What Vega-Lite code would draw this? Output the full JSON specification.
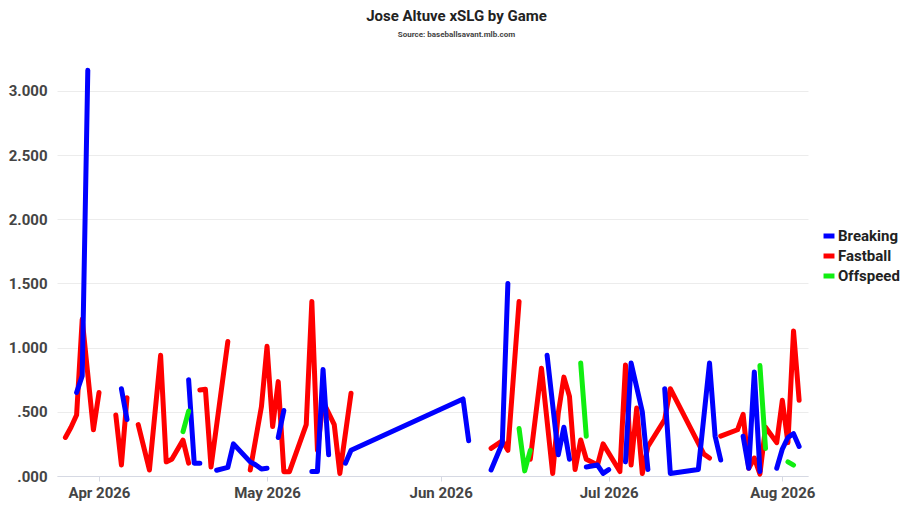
{
  "$schema": "https://vega.github.io/schema/vega-lite/v6.json",
  "description": "Jose Altuve xSLG by game, split by pitch type",
  "autosize": {"type": "none"},
  "padding": {"left": 57, "top": 69, "right": 104, "bottom": 37},
  "width": 751,
  "height": 407,
  "background": "white",
  "view": {"stroke": null},
  "config": {"font": "Roboto"},
  "title": {
    "text": "Jose Altuve xSLG by Game",
    "subtitle": "Source: baseballsavant.mlb.com",
    "fontSize": 15,
    "fontWeight": "bold",
    "color": "#222222",
    "subtitleFontSize": 8,
    "subtitleFontWeight": "bold",
    "subtitleColor": "#444444",
    "subtitlePadding": 7,
    "anchor": "middle",
    "dx": 24,
    "offset": 29
  },
  "data": {
    "values": [
      {"date": "2026-03-26", "type": "Fastball", "xslg": 0.30},
      {"date": "2026-03-27", "type": "Fastball", "xslg": 0.38},
      {"date": "2026-03-28", "type": "Fastball", "xslg": 0.475},
      {"date": "2026-03-29", "type": "Fastball", "xslg": 1.22},
      {"date": "2026-03-31", "type": "Fastball", "xslg": 0.36},
      {"date": "2026-04-01", "type": "Fastball", "xslg": 0.65},
      {"date": "2026-04-02", "type": "Fastball", "xslg": null},
      {"date": "2026-04-04", "type": "Fastball", "xslg": 0.475},
      {"date": "2026-04-05", "type": "Fastball", "xslg": 0.086},
      {"date": "2026-04-06", "type": "Fastball", "xslg": 0.61},
      {"date": "2026-04-07", "type": "Fastball", "xslg": null},
      {"date": "2026-04-08", "type": "Fastball", "xslg": 0.40},
      {"date": "2026-04-10", "type": "Fastball", "xslg": 0.047},
      {"date": "2026-04-12", "type": "Fastball", "xslg": 0.94},
      {"date": "2026-04-13", "type": "Fastball", "xslg": 0.11},
      {"date": "2026-04-14", "type": "Fastball", "xslg": 0.13},
      {"date": "2026-04-16", "type": "Fastball", "xslg": 0.28},
      {"date": "2026-04-17", "type": "Fastball", "xslg": 0.10},
      {"date": "2026-04-18", "type": "Fastball", "xslg": null},
      {"date": "2026-04-19", "type": "Fastball", "xslg": 0.67},
      {"date": "2026-04-20", "type": "Fastball", "xslg": 0.675},
      {"date": "2026-04-21", "type": "Fastball", "xslg": 0.07},
      {"date": "2026-04-24", "type": "Fastball", "xslg": 1.047},
      {"date": "2026-04-25", "type": "Fastball", "xslg": null},
      {"date": "2026-04-28", "type": "Fastball", "xslg": 0.047},
      {"date": "2026-04-30", "type": "Fastball", "xslg": 0.54},
      {"date": "2026-05-01", "type": "Fastball", "xslg": 1.01},
      {"date": "2026-05-02", "type": "Fastball", "xslg": 0.385},
      {"date": "2026-05-03", "type": "Fastball", "xslg": 0.735},
      {"date": "2026-05-04", "type": "Fastball", "xslg": 0.034},
      {"date": "2026-05-05", "type": "Fastball", "xslg": 0.034},
      {"date": "2026-05-08", "type": "Fastball", "xslg": 0.40},
      {"date": "2026-05-09", "type": "Fastball", "xslg": 1.36},
      {"date": "2026-05-10", "type": "Fastball", "xslg": 0.20},
      {"date": "2026-05-11", "type": "Fastball", "xslg": 0.58},
      {"date": "2026-05-13", "type": "Fastball", "xslg": 0.40},
      {"date": "2026-05-14", "type": "Fastball", "xslg": 0.02},
      {"date": "2026-05-16", "type": "Fastball", "xslg": 0.645},
      {"date": "2026-06-05", "type": "Fastball", "xslg": null},
      {"date": "2026-06-10", "type": "Fastball", "xslg": 0.215},
      {"date": "2026-06-12", "type": "Fastball", "xslg": 0.275},
      {"date": "2026-06-13", "type": "Fastball", "xslg": 0.20},
      {"date": "2026-06-15", "type": "Fastball", "xslg": 1.36},
      {"date": "2026-06-16", "type": "Fastball", "xslg": null},
      {"date": "2026-06-17", "type": "Fastball", "xslg": 0.13},
      {"date": "2026-06-19", "type": "Fastball", "xslg": 0.84},
      {"date": "2026-06-21", "type": "Fastball", "xslg": 0.02},
      {"date": "2026-06-22", "type": "Fastball", "xslg": 0.49},
      {"date": "2026-06-23", "type": "Fastball", "xslg": 0.77},
      {"date": "2026-06-24", "type": "Fastball", "xslg": 0.62},
      {"date": "2026-06-25", "type": "Fastball", "xslg": 0.05},
      {"date": "2026-06-26", "type": "Fastball", "xslg": 0.28},
      {"date": "2026-06-27", "type": "Fastball", "xslg": 0.13},
      {"date": "2026-06-29", "type": "Fastball", "xslg": 0.085},
      {"date": "2026-06-30", "type": "Fastball", "xslg": 0.25},
      {"date": "2026-07-03", "type": "Fastball", "xslg": 0.035},
      {"date": "2026-07-04", "type": "Fastball", "xslg": 0.865},
      {"date": "2026-07-05", "type": "Fastball", "xslg": 0.085},
      {"date": "2026-07-06", "type": "Fastball", "xslg": 0.53},
      {"date": "2026-07-07", "type": "Fastball", "xslg": 0.02},
      {"date": "2026-07-08", "type": "Fastball", "xslg": 0.23},
      {"date": "2026-07-11", "type": "Fastball", "xslg": 0.44},
      {"date": "2026-07-12", "type": "Fastball", "xslg": 0.68},
      {"date": "2026-07-18", "type": "Fastball", "xslg": 0.17},
      {"date": "2026-07-19", "type": "Fastball", "xslg": 0.14},
      {"date": "2026-07-20", "type": "Fastball", "xslg": null},
      {"date": "2026-07-21", "type": "Fastball", "xslg": 0.31},
      {"date": "2026-07-24", "type": "Fastball", "xslg": 0.36},
      {"date": "2026-07-25", "type": "Fastball", "xslg": 0.48},
      {"date": "2026-07-26", "type": "Fastball", "xslg": 0.06},
      {"date": "2026-07-27", "type": "Fastball", "xslg": 0.14},
      {"date": "2026-07-28", "type": "Fastball", "xslg": 0.015},
      {"date": "2026-07-29", "type": "Fastball", "xslg": 0.38},
      {"date": "2026-07-31", "type": "Fastball", "xslg": 0.26},
      {"date": "2026-08-01", "type": "Fastball", "xslg": 0.59},
      {"date": "2026-08-02", "type": "Fastball", "xslg": 0.26},
      {"date": "2026-08-03", "type": "Fastball", "xslg": 1.13},
      {"date": "2026-08-04", "type": "Fastball", "xslg": 0.59},

      {"date": "2026-03-28", "type": "Breaking", "xslg": 0.65},
      {"date": "2026-03-29", "type": "Breaking", "xslg": 0.78},
      {"date": "2026-03-30", "type": "Breaking", "xslg": 3.16},
      {"date": "2026-03-31", "type": "Breaking", "xslg": null},
      {"date": "2026-04-05", "type": "Breaking", "xslg": 0.68},
      {"date": "2026-04-06", "type": "Breaking", "xslg": 0.44},
      {"date": "2026-04-08", "type": "Breaking", "xslg": null},
      {"date": "2026-04-17", "type": "Breaking", "xslg": 0.75},
      {"date": "2026-04-18", "type": "Breaking", "xslg": 0.10},
      {"date": "2026-04-19", "type": "Breaking", "xslg": 0.10},
      {"date": "2026-04-21", "type": "Breaking", "xslg": null},
      {"date": "2026-04-22", "type": "Breaking", "xslg": 0.045},
      {"date": "2026-04-24", "type": "Breaking", "xslg": 0.067},
      {"date": "2026-04-25", "type": "Breaking", "xslg": 0.25},
      {"date": "2026-04-28", "type": "Breaking", "xslg": 0.11},
      {"date": "2026-04-29", "type": "Breaking", "xslg": 0.086},
      {"date": "2026-04-30", "type": "Breaking", "xslg": 0.055},
      {"date": "2026-05-01", "type": "Breaking", "xslg": 0.06},
      {"date": "2026-05-02", "type": "Breaking", "xslg": null},
      {"date": "2026-05-03", "type": "Breaking", "xslg": 0.30},
      {"date": "2026-05-04", "type": "Breaking", "xslg": 0.51},
      {"date": "2026-05-05", "type": "Breaking", "xslg": null},
      {"date": "2026-05-09", "type": "Breaking", "xslg": 0.035},
      {"date": "2026-05-10", "type": "Breaking", "xslg": 0.035},
      {"date": "2026-05-11", "type": "Breaking", "xslg": 0.83},
      {"date": "2026-05-12", "type": "Breaking", "xslg": 0.165},
      {"date": "2026-05-14", "type": "Breaking", "xslg": null},
      {"date": "2026-05-15", "type": "Breaking", "xslg": 0.10},
      {"date": "2026-05-16", "type": "Breaking", "xslg": 0.20},
      {"date": "2026-06-05", "type": "Breaking", "xslg": 0.60},
      {"date": "2026-06-06", "type": "Breaking", "xslg": 0.275},
      {"date": "2026-06-09", "type": "Breaking", "xslg": null},
      {"date": "2026-06-10", "type": "Breaking", "xslg": 0.047},
      {"date": "2026-06-12", "type": "Breaking", "xslg": 0.255},
      {"date": "2026-06-13", "type": "Breaking", "xslg": 1.50},
      {"date": "2026-06-15", "type": "Breaking", "xslg": null},
      {"date": "2026-06-20", "type": "Breaking", "xslg": 0.94},
      {"date": "2026-06-22", "type": "Breaking", "xslg": 0.165},
      {"date": "2026-06-23", "type": "Breaking", "xslg": 0.38},
      {"date": "2026-06-24", "type": "Breaking", "xslg": 0.13},
      {"date": "2026-06-25", "type": "Breaking", "xslg": null},
      {"date": "2026-06-27", "type": "Breaking", "xslg": 0.07},
      {"date": "2026-06-29", "type": "Breaking", "xslg": 0.085},
      {"date": "2026-06-30", "type": "Breaking", "xslg": 0.02},
      {"date": "2026-07-01", "type": "Breaking", "xslg": 0.05},
      {"date": "2026-07-03", "type": "Breaking", "xslg": null},
      {"date": "2026-07-04", "type": "Breaking", "xslg": 0.11},
      {"date": "2026-07-05", "type": "Breaking", "xslg": 0.88},
      {"date": "2026-07-07", "type": "Breaking", "xslg": 0.50},
      {"date": "2026-07-08", "type": "Breaking", "xslg": 0.05},
      {"date": "2026-07-09", "type": "Breaking", "xslg": null},
      {"date": "2026-07-11", "type": "Breaking", "xslg": 0.68},
      {"date": "2026-07-12", "type": "Breaking", "xslg": 0.02},
      {"date": "2026-07-17", "type": "Breaking", "xslg": 0.05},
      {"date": "2026-07-19", "type": "Breaking", "xslg": 0.88},
      {"date": "2026-07-20", "type": "Breaking", "xslg": 0.31},
      {"date": "2026-07-21", "type": "Breaking", "xslg": 0.125},
      {"date": "2026-07-24", "type": "Breaking", "xslg": null},
      {"date": "2026-07-25", "type": "Breaking", "xslg": 0.31},
      {"date": "2026-07-26", "type": "Breaking", "xslg": 0.06},
      {"date": "2026-07-27", "type": "Breaking", "xslg": 0.81},
      {"date": "2026-07-28", "type": "Breaking", "xslg": 0.035},
      {"date": "2026-07-29", "type": "Breaking", "xslg": null},
      {"date": "2026-07-31", "type": "Breaking", "xslg": 0.06},
      {"date": "2026-08-01", "type": "Breaking", "xslg": 0.21},
      {"date": "2026-08-02", "type": "Breaking", "xslg": 0.30},
      {"date": "2026-08-03", "type": "Breaking", "xslg": 0.33},
      {"date": "2026-08-04", "type": "Breaking", "xslg": 0.23},

      {"date": "2026-04-16", "type": "Offspeed", "xslg": 0.345},
      {"date": "2026-04-17", "type": "Offspeed", "xslg": 0.505},
      {"date": "2026-05-01", "type": "Offspeed", "xslg": null},
      {"date": "2026-06-15", "type": "Offspeed", "xslg": 0.37},
      {"date": "2026-06-16", "type": "Offspeed", "xslg": 0.04},
      {"date": "2026-06-17", "type": "Offspeed", "xslg": 0.20},
      {"date": "2026-06-20", "type": "Offspeed", "xslg": null},
      {"date": "2026-06-26", "type": "Offspeed", "xslg": 0.88},
      {"date": "2026-06-27", "type": "Offspeed", "xslg": 0.31},
      {"date": "2026-07-10", "type": "Offspeed", "xslg": null},
      {"date": "2026-07-28", "type": "Offspeed", "xslg": 0.86},
      {"date": "2026-07-29", "type": "Offspeed", "xslg": 0.215},
      {"date": "2026-07-31", "type": "Offspeed", "xslg": null},
      {"date": "2026-08-02", "type": "Offspeed", "xslg": 0.11},
      {"date": "2026-08-03", "type": "Offspeed", "xslg": 0.085}
    ]
  },
  "mark": {
    "type": "line",
    "strokeWidth": 5,
    "strokeCap": "round",
    "strokeJoin": "round"
  },
  "encoding": {
    "x": {
      "field": "date",
      "type": "temporal",
      "title": null,
      "scale": {
        "type": "utc",
        "domain": [1774353600000, 1785938400000]
      },
      "axis": {
        "format": "%b %Y",
        "tickCount": "month",
        "grid": false,
        "domainColor": "#d6d9e3",
        "tickColor": "#d6d9e3",
        "tickSize": 5,
        "labelPadding": 4,
        "labelFontSize": 15,
        "labelFontWeight": "bold",
        "labelColor": "#444444",
        "labelFlush": false
      }
    },
    "y": {
      "field": "xslg",
      "type": "quantitative",
      "title": null,
      "scale": {"domain": [0, 3.17], "nice": false},
      "axis": {
        "values": [0, 0.5, 1, 1.5, 2, 2.5, 3],
        "labelExpr": "datum.value < 1 ? substring(format(datum.value, '.3f'), 1) : format(datum.value, '.3f')",
        "domain": false,
        "ticks": false,
        "gridColor": "#ececec",
        "labelPadding": 10,
        "labelFontSize": 15,
        "labelFontWeight": "bold",
        "labelColor": "#444444"
      }
    },
    "color": {
      "field": "type",
      "type": "nominal",
      "scale": {
        "domain": ["Breaking", "Fastball", "Offspeed"],
        "range": ["#0000ff", "#ff0000", "#11ee11"]
      },
      "legend": {
        "title": null,
        "orient": "none",
        "legendX": 764,
        "legendY": 159,
        "padding": 0,
        "symbolType": "stroke",
        "symbolStrokeWidth": 5,
        "symbolSize": 120,
        "labelFontSize": 15,
        "labelFontWeight": "bold",
        "labelColor": "#222222",
        "labelOffset": 1,
        "rowPadding": 0
      }
    }
  }
}
